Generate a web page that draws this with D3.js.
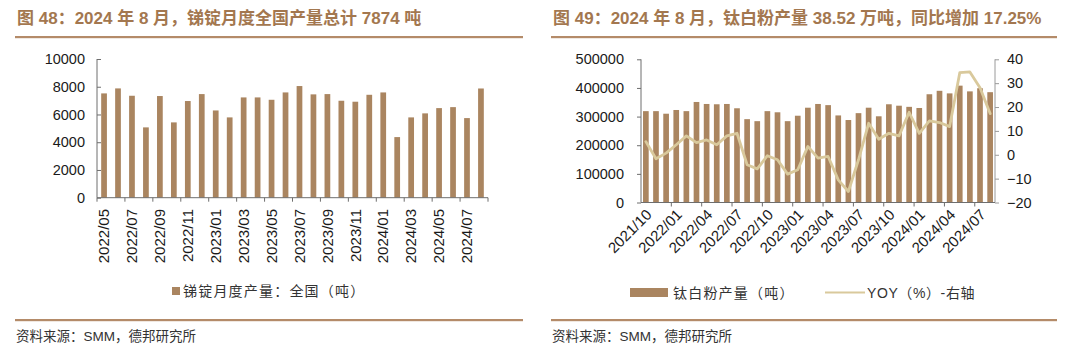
<!DOCTYPE html>
<html>
<head>
<meta charset="utf-8">
<script src="https://cdn.jsdelivr.net/npm/d3@7"></script>
<style>
  body { margin: 0; background: #fff; }
  svg text { font-family: "Liberation Sans", Arial, sans-serif; }
  .cjk { font-family: "Liberation Sans", "Noto Sans CJK SC", sans-serif; }
</style>
</head>
<body>
<div id="chart"></div>
<script>
// ---- datos: 锑锭月度产量 (吨) ----
const sbMonths = ['2022/05','2022/06','2022/07','2022/08','2022/09','2022/10','2022/11','2022/12',
  '2023/01','2023/02','2023/03','2023/04','2023/05','2023/06','2023/07','2023/08','2023/09','2023/10',
  '2023/11','2023/12','2024/01','2024/02','2024/03','2024/04','2024/05','2024/06','2024/07','2024/08'];
const sbOutput = [7520, 7880, 7350, 5070, 7330, 5430, 6970, 7470, 6290, 5790, 7230, 7230, 7060, 7590,
  8050, 7450, 7470, 6990, 6920, 7420, 7590, 4370, 5790, 6080, 6460, 6530, 5740, 7874];
const sbTicks = [0, 2000, 4000, 6000, 8000, 10000];

// ---- datos: 钛白粉产量 (吨) + YOY (%) ----
const tiMonths = ['2021/10','2021/11','2021/12','2022/01','2022/02','2022/03','2022/04','2022/05','2022/06',
  '2022/07','2022/08','2022/09','2022/10','2022/11','2022/12','2023/01','2023/02','2023/03','2023/04',
  '2023/05','2023/06','2023/07','2023/08','2023/09','2023/10','2023/11','2023/12','2024/01','2024/02',
  '2024/03','2024/04','2024/05','2024/06','2024/07','2024/08'];
const tiOutput = [319000, 319000, 310000, 323000, 319000, 351000, 344000, 343000, 344000, 329000,
  291000, 284000, 319000, 315000, 284000, 303000, 331000, 344000, 340000, 304000, 288000, 312000,
  331000, 301000, 343000, 338000, 334000, 330000, 378000, 390000, 381000, 408000, 388000, 399000, 385200];
const tiYoy = [5.5, -1.7, 0.7, 4.2, 7.9, 5.1, 6.2, 4.2, 7.9, 9.0, -4.2, -5.9, -0.4, -2.1, -8.1, -6.3,
  3.5, -1.4, -0.7, -10.5, -15.4, -2.1, 13.2, 6.5, 9.0, 7.9, 17.8, 9.0, 14.2, 13.5, 11.8, 34.4, 34.7, 28.1, 17.25];
const tiTicksL = [0, 100000, 200000, 300000, 400000, 500000];
const tiTicksR = [-20, -10, 0, 10, 20, 30, 40];

const width = 1080, height = 350;
const BAR = '#aa8560', LINE = '#d9c99c', RULE = '#b48b69', AXIS = '#6e6e6e', TXT = '#1a1a1a';

const svg = d3.select('#chart').append('svg')
  .attr('width', width).attr('height', height)
  .attr('viewBox', [0, 0, width, height]);

svg.append('rect').attr('width', width).attr('height', height).attr('fill', '#fff');

// ━━━ marcos: títulos, reglas y fuente ━━━
const titles = [
  { x: 17, x1: 15, x2: 523, t: '图 48：2024 年 8 月，锑锭月度全国产量总计 7874 吨' },
  { x: 553, x1: 551, x2: 1057, t: '图 49：2024 年 8 月，钛白粉产量 38.52 万吨，同比增加 17.25%' }
];
titles.forEach(d => {
  svg.append('text').attr('class', 'cjk')
    .attr('x', d.x).attr('y', 24)
    .attr('font-size', 17).attr('font-weight', 'bold').attr('fill', '#a3774f')
    .text(d.t);
  svg.append('rect').attr('x', d.x1).attr('y', 36).attr('width', d.x2 - d.x1).attr('height', 2.2).attr('fill', RULE);
  svg.append('rect').attr('x', d.x1).attr('y', 319).attr('width', d.x2 - d.x1).attr('height', 2.2).attr('fill', RULE);
  svg.append('text').attr('class', 'cjk')
    .attr('x', d.x1 + 1).attr('y', 341)
    .attr('font-size', 13.5).attr('fill', '#333')
    .text('资料来源：SMM，德邦研究所');
});

// ━━━ Gráfico 48 ━━━
const g1 = svg.append('g');
const x1 = d3.scaleBand().domain(sbMonths).range([97, 488]).paddingInner(0.59).paddingOuter(0.3);
const y1 = d3.scaleLinear().domain([0, 10000]).range([197.7, 59]);

g1.append('g').selectAll('rect').data(sbOutput).join('rect')
  .attr('x', (d, i) => x1(sbMonths[i]))
  .attr('y', d => y1(d))
  .attr('width', x1.bandwidth())
  .attr('height', d => y1(0) - y1(d))
  .attr('fill', BAR);

const ax1 = g1.append('g').attr('transform', 'translate(97,0)')
  .call(d3.axisLeft(y1).tickValues(sbTicks).tickSize(-4).tickPadding(12).tickFormat(d3.format('d')));
ax1.select('.domain').attr('stroke', AXIS).attr('d', `M0,${y1(0)}V${y1(10000)}`);
ax1.selectAll('.tick line').attr('stroke', AXIS);
ax1.selectAll('text').attr('font-size', 14.5).attr('fill', TXT).attr('font-family', 'Liberation Sans, Arial');

// eje x
const x1start = 97;
g1.append('line').attr('x1', 97).attr('x2', 488).attr('y1', y1(0)).attr('y2', y1(0)).attr('stroke', AXIS);
g1.append('g').selectAll('line').data(d3.range(0, 29, 2)).join('line')
  .attr('x1', k => Math.min(x1start + k * (391 / 28), 488)).attr('x2', k => Math.min(x1start + k * (391 / 28), 488))
  .attr('y1', y1(0)).attr('y2', y1(0) + 4).attr('stroke', AXIS);
g1.append('g').selectAll('text').data(sbMonths.filter((d, i) => i % 2 === 0)).join('text')
  .attr('transform', d => `translate(${x1(d) + x1.bandwidth() / 2},209) rotate(-90)`)
  .attr('dy', '0.35em').attr('text-anchor', 'end')
  .attr('font-size', 15).attr('fill', TXT)
  .text(d => d);

// leyenda
g1.append('rect').attr('x', 172).attr('y', 287).attr('width', 8).attr('height', 8).attr('fill', BAR);
g1.append('text').attr('class', 'cjk').attr('x', 183).attr('y', 296)
  .attr('font-size', 14).attr('letter-spacing', 1.2).attr('fill', '#333')
  .text('锑锭月度产量：全国（吨）');

// ━━━ Gráfico 49 ━━━
const g2 = svg.append('g');
const x2 = d3.scaleBand().domain(tiMonths).range([641, 995]).paddingInner(0.44).paddingOuter(0.2);
const y2L = d3.scaleLinear().domain([0, 500000]).range([202.5, 59.3]);
const y2R = d3.scaleLinear().domain([-20, 40]).range([202.5, 59.3]);

g2.append('g').selectAll('rect').data(tiOutput).join('rect')
  .attr('x', (d, i) => x2(tiMonths[i]))
  .attr('y', d => y2L(d))
  .attr('width', x2.bandwidth())
  .attr('height', d => y2L(0) - y2L(d))
  .attr('fill', BAR);

const line = d3.line()
  .x((d, i) => x2(tiMonths[i]) + x2.bandwidth() / 2)
  .y(d => y2R(d));
g2.append('path').datum(tiYoy)
  .attr('d', line).attr('fill', 'none')
  .attr('stroke', LINE).attr('stroke-width', 2.8)
  .attr('stroke-linejoin', 'round').attr('stroke-linecap', 'round');

const ax2L = g2.append('g').attr('transform', 'translate(641,0)')
  .call(d3.axisLeft(y2L).tickValues(tiTicksL).tickSize(4).tickPadding(13).tickFormat(d3.format('d')));
ax2L.select('.domain').attr('stroke', AXIS).attr('d', `M0,${y2L(0)}V${y2L(500000)}`);
ax2L.selectAll('.tick line').attr('stroke', AXIS);
ax2L.selectAll('text').attr('font-size', 14.5).attr('fill', TXT).attr('font-family', 'Liberation Sans, Arial');

const ax2R = g2.append('g').attr('transform', 'translate(995,0)')
  .call(d3.axisRight(y2R).tickValues(tiTicksR).tickSize(4).tickPadding(8));
ax2R.select('.domain').attr('stroke', '#9a9a9a').attr('d', `M0,${y2R(-20)}V${y2R(40)}`);
ax2R.selectAll('.tick line').attr('stroke', '#9a9a9a');
ax2R.selectAll('text').attr('font-size', 14.5).attr('fill', TXT).attr('font-family', 'Liberation Sans, Arial');

g2.append('line').attr('x1', 641).attr('x2', 995).attr('y1', y2L(0)).attr('y2', y2L(0)).attr('stroke', AXIS);
g2.append('g').selectAll('line').data(d3.range(3, 36, 3)).join('line')
  .attr('x1', k => 641 + k * (354 / 35)).attr('x2', k => 641 + k * (354 / 35))
  .attr('y1', y2L(0)).attr('y2', y2L(0) + 4).attr('stroke', AXIS);
g2.append('g').selectAll('text').data(tiMonths.filter((d, i) => i % 3 === 0)).join('text')
  .attr('transform', d => `translate(${x2(d) + x2.bandwidth() / 2 + 3},212) rotate(-45)`)
  .attr('dy', '0.35em').attr('text-anchor', 'end')
  .attr('font-size', 15).attr('fill', TXT)
  .text(d => d);

// leyenda
g2.append('rect').attr('x', 630).attr('y', 288).attr('width', 38).attr('height', 9).attr('fill', BAR);
g2.append('text').attr('class', 'cjk').attr('x', 673).attr('y', 298)
  .attr('font-size', 14).attr('letter-spacing', 1.2).attr('fill', '#333')
  .text('钛白粉产量（吨）');
g2.append('line').attr('x1', 825).attr('x2', 865).attr('y1', 292.5).attr('y2', 292.5)
  .attr('stroke', LINE).attr('stroke-width', 2.2);
g2.append('text').attr('class', 'cjk').attr('x', 867).attr('y', 298)
  .attr('font-size', 14).attr('letter-spacing', 0.6).attr('fill', '#333')
  .text('YOY（%）-右轴');
</script>
</body>
</html>
